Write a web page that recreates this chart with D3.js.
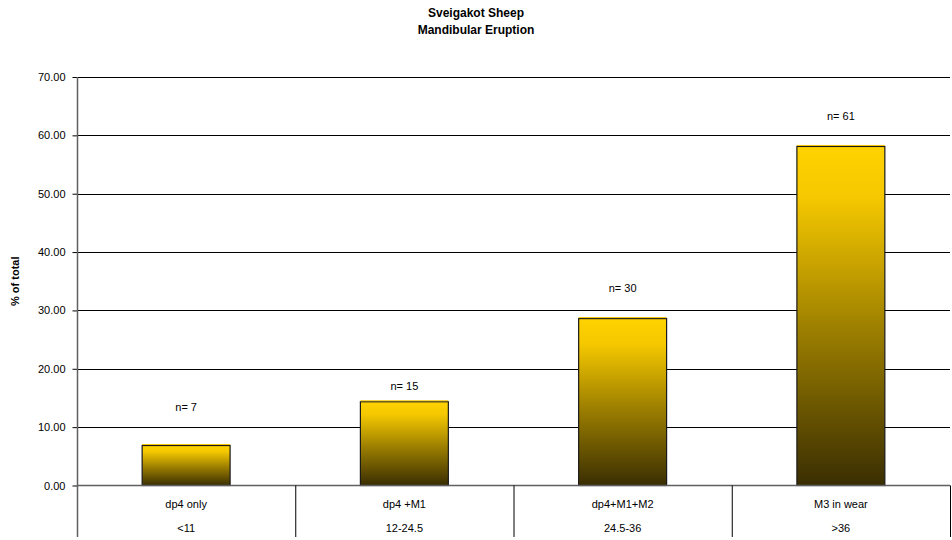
<!DOCTYPE html>
<html>
<head>
<meta charset="utf-8">
<script src="https://cdn.jsdelivr.net/npm/d3@7/dist/d3.min.js"></script>
<style>
  html, body { margin: 0; padding: 0; background: #fff; }
  svg { display: block; font-family: "Liberation Sans", Arial, sans-serif; }
</style>
</head>
<body>
<svg id="chart" width="952" height="540"></svg>
<script>
// ---- data ----
const categories = ["dp4 only", "dp4 +M1", "dp4+M1+M2", "M3 in wear"];
const ageRanges = ["<11", "12-24.5", "24.5-36", ">36"];
const percentOfTotal = [6.85, 14.35, 28.6, 58.1];
const sampleLabels = ["n= 7", "n= 15", "n= 30", "n= 61"];
const sampleLabelLevels = [13.5, 17.0, 33.9, 63.3]; // y position of n-labels in data units
const yTicks = [0, 10, 20, 30, 40, 50, 60, 70];
const titleLines = ["Sveigakot Sheep", "Mandibular Eruption"];
const yAxisTitle = "% of total";

// ---- layout ----
const svg = d3.select("#chart");
const margin = { left: 77, right: 2, top: 77, bottom: 54 };
const W = 952, H = 540;
const plotBottom = 485.5;
const x = d3.scaleBand().domain(categories).range([margin.left, W - margin.right]).paddingInner(0).paddingOuter(0);
const y = d3.scaleLinear().domain([0, 70]).range([plotBottom, margin.top]);
const barW = x.bandwidth() * 0.403;

// gradient
const defs = svg.append("defs");
const grad = defs.append("linearGradient").attr("id", "barGrad")
  .attr("x1", 0).attr("y1", 0).attr("x2", 0).attr("y2", 1);
grad.append("stop").attr("offset", "0%").attr("stop-color", "#FFD200");
grad.append("stop").attr("offset", "15%").attr("stop-color", "#F5C800");
grad.append("stop").attr("offset", "55%").attr("stop-color", "#9A7D00");
grad.append("stop").attr("offset", "100%").attr("stop-color", "#3A2E02");

// title
svg.append("g").selectAll("text").data(titleLines).join("text")
  .attr("x", 476).attr("y", (d, i) => 17 + i * 17)
  .attr("text-anchor", "middle").attr("font-size", 12).attr("font-weight", "bold")
  .attr("fill", "#000").text(d => d);

// gridlines
svg.append("g").selectAll("line").data(yTicks.filter(t => t > 0)).join("line")
  .attr("x1", margin.left).attr("x2", W - margin.right)
  .attr("y1", d => Math.round(y(d)) + 0.5).attr("y2", d => Math.round(y(d)) + 0.5)
  .attr("stroke", "#000").attr("stroke-width", 1);

// y axis
const yAxis = d3.axisLeft(y).tickValues(yTicks).tickFormat(d3.format(".2f")).tickSize(5).tickPadding(7);
const gy = svg.append("g").attr("transform", `translate(${margin.left + 0.5},0)`).call(yAxis);
gy.select(".domain").remove();
gy.selectAll(".tick line").attr("stroke", "#000");
gy.selectAll(".tick text").attr("font-size", 11).attr("fill", "#000")
  .attr("font-family", "'Liberation Sans', Arial, sans-serif");
svg.append("line").attr("x1", margin.left + 0.5).attr("x2", margin.left + 0.5)
  .attr("y1", margin.top).attr("y2", 537).attr("stroke", "#606060").attr("stroke-width", 1.5);

// y axis title
svg.append("text").attr("transform", `translate(19,${(margin.top + plotBottom) / 2}) rotate(-90)`)
  .attr("text-anchor", "middle").attr("font-size", 11).attr("font-weight", "bold")
  .text(yAxisTitle);

// bars
const bars = svg.append("g").selectAll("g").data(categories).join("g");
bars.append("rect")
  .attr("x", d => x(d) + (x.bandwidth() - barW) / 2)
  .attr("y", (d, i) => y(percentOfTotal[i]))
  .attr("width", barW)
  .attr("height", (d, i) => plotBottom - y(percentOfTotal[i]))
  .attr("fill", "url(#barGrad)")
  .attr("stroke", "#1a1a1a").attr("stroke-width", 1.2);
bars.append("line")
  .attr("x1", d => x(d) + (x.bandwidth() - barW) / 2)
  .attr("x2", d => x(d) + (x.bandwidth() + barW) / 2)
  .attr("y1", (d, i) => y(percentOfTotal[i]) - 1)
  .attr("y2", (d, i) => y(percentOfTotal[i]) - 1)
  .attr("stroke", "#F3C400").attr("stroke-width", 1);

// n labels
svg.append("g").selectAll("text").data(sampleLabels).join("text")
  .attr("x", (d, i) => x(categories[i]) + x.bandwidth() / 2)
  .attr("y", (d, i) => y(sampleLabelLevels[i]) + 4)
  .attr("text-anchor", "middle").attr("font-size", 11).attr("fill", "#000")
  .text(d => d);

// baseline
svg.append("line").attr("x1", margin.left).attr("x2", W - margin.right)
  .attr("y1", plotBottom).attr("y2", plotBottom)
  .attr("stroke", "#606060").attr("stroke-width", 1.5);

// category separators
const seps = categories.map(c => x(c) + x.bandwidth());
svg.append("g").selectAll("line").data(seps).join("line")
  .attr("x1", d => Math.min(d, W - 2) + 0.5).attr("x2", d => Math.min(d, W - 2) + 0.5)
  .attr("y1", plotBottom).attr("y2", 537)
  .attr("stroke", "#000").attr("stroke-width", 1);

// category labels
svg.append("g").selectAll("text").data(categories).join("text")
  .attr("x", d => x(d) + x.bandwidth() / 2).attr("y", 508)
  .attr("text-anchor", "middle").attr("font-size", 11).text(d => d);
svg.append("g").selectAll("text").data(ageRanges).join("text")
  .attr("x", (d, i) => x(categories[i]) + x.bandwidth() / 2).attr("y", 532)
  .attr("text-anchor", "middle").attr("font-size", 11).text(d => d);
</script>
</body>
</html>
